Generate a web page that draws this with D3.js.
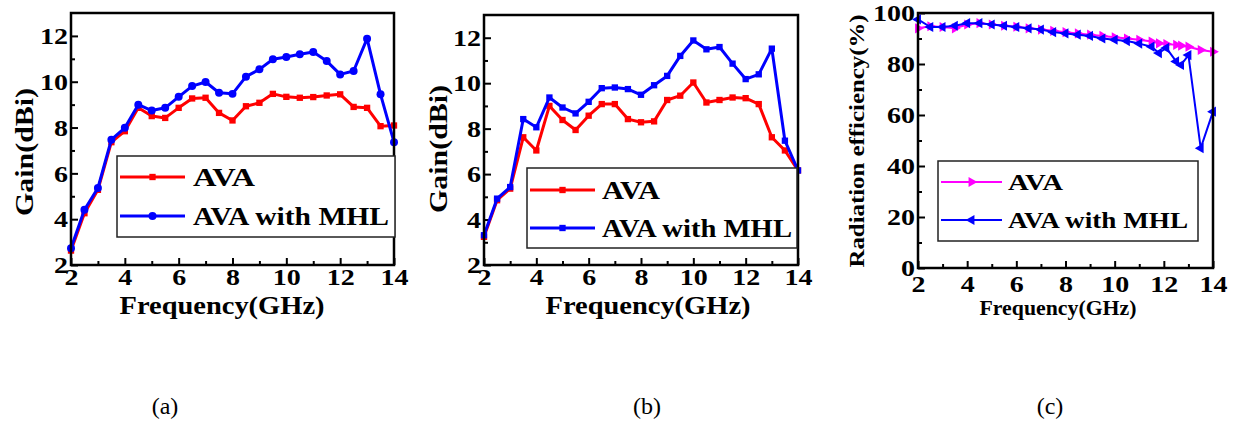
<!DOCTYPE html>
<html>
<head>
<meta charset="utf-8">
<script src="https://cdn.jsdelivr.net/npm/d3@7"></script>
<style>
  body { margin: 0; background: #fff; }
</style>
</head>
<body>
<svg id="fig" width="1236" height="421"></svg>
<script>
const FONT = "'Liberation Serif', 'DejaVu Serif', serif";

// frequency points (GHz) for panels (a) and (b)
const freqAB = [2, 2.5, 3, 3.5, 4, 4.5, 5, 5.5, 6, 6.5, 7, 7.5, 8, 8.5, 9, 9.5, 10, 10.5, 11, 11.5, 12, 12.5, 13, 13.5, 14];

// panel (a) gain (dBi)
const gainA_ava = [2.63, 4.26, 5.28, 7.36, 7.84, 8.86, 8.5, 8.42, 8.86, 9.27, 9.3, 8.64, 8.31, 8.93, 9.08, 9.47, 9.34, 9.3, 9.33, 9.4, 9.45, 8.9, 8.86, 8.06, 8.09];
const gainA_mhl = [2.73, 4.41, 5.36, 7.47, 7.99, 9.0, 8.74, 8.86, 9.34, 9.81, 9.99, 9.52, 9.47, 10.22, 10.54, 10.98, 11.08, 11.2, 11.3, 10.9, 10.32, 10.47, 11.88, 9.45, 7.36];

// panel (b) gain (dBi)
const gainB_ava = [3.24, 4.85, 5.36, 7.62, 7.04, 9.0, 8.38, 7.94, 8.57, 9.08, 9.08, 8.42, 8.28, 8.32, 9.26, 9.45, 10.03, 9.15, 9.26, 9.37, 9.34, 9.08, 7.62, 7.04, 6.16];
const gainB_mhl = [3.31, 4.92, 5.43, 8.42, 8.06, 9.37, 8.93, 8.67, 9.18, 9.78, 9.81, 9.74, 9.49, 9.91, 10.32, 11.2, 11.88, 11.49, 11.59, 10.86, 10.18, 10.39, 11.52, 7.47, 6.16];

// panel (c) radiation efficiency (%)
const freqC = [2, 2.5, 3, 3.5, 4, 4.5, 5, 5.5, 6, 6.5, 7, 7.5, 8, 8.5, 9, 9.5, 10, 10.5, 11, 11.5, 11.8, 12.1, 12.5, 12.7, 13, 13.5, 14];
const effC_ava = [94, 94.8, 94.5, 94, 95.5, 96, 95.5, 95, 94.6, 94, 93.5, 93, 92.5, 92, 91.5, 91, 90.5, 90, 89.5, 88.8, 88.1, 87.8, 87.5, 87.2, 86.8, 85.5, 84.8];
const effC_mhl = [97.5, 94.5, 94.5, 95, 96, 96, 95.5, 95, 94.5, 94, 93.5, 92.5, 92, 91.5, 91, 90, 89.5, 89, 88, 86.8, 84.3, 86.3, 81, 79.6, 83.5, 47, 61.3];

const legendLabels = ["AVA", "AVA with MHL"];
const captions = ["(a)", "(b)", "(c)"];

const svg = d3.select("#fig");

const panels = [
  {
    left: 71, right: 394, top: 13, bottom: 265,
    xDomain: [2, 14], yDomain: [2, 13],
    xMajor: [2, 4, 6, 8, 10, 12, 14], xMinor: [3, 5, 7, 9, 11, 13],
    yMajor: [2, 4, 6, 8, 10, 12], yMinor: [3, 5, 7, 9, 11],
    tickFont: 24, digitW: 14, xPad: 3, xTitle: "Frequency(GHz)", yTitle: "Gain(dBi)", titleFont: 26,
    xTitlePos: [222, 314], xTitleLen: 205, yTitlePos: [33, 152], yTitleLen: 128,
    lineW: 3,
    series: [
      { x: freqAB, y: gainA_ava, color: "#ff0000", symbol: d3.symbolSquare, size: 40, rot: 0 },
      { x: freqAB, y: gainA_mhl, color: "#0000ff", symbol: d3.symbolCircle, size: 50, rot: 0 }
    ],
    legend: { x0: 117, y0: 156, x1: 395, y1: 237, lineX: [120, 185], rows: [177, 216], textX: 193, font: 25, lens: [62, 196] },
    caption: [165, 414]
  },
  {
    left: 484, right: 798, top: 15, bottom: 265,
    xDomain: [2, 14], yDomain: [2, 13],
    xMajor: [2, 4, 6, 8, 10, 12, 14], xMinor: [3, 5, 7, 9, 11, 13],
    yMajor: [2, 4, 6, 8, 10, 12], yMinor: [3, 5, 7, 9, 11],
    tickFont: 24, digitW: 14, xPad: 3, xTitle: "Frequency(GHz)", yTitle: "Gain(dBi)", titleFont: 26,
    xTitlePos: [648, 314], xTitleLen: 205, yTitlePos: [447, 149], yTitleLen: 128,
    lineW: 3,
    series: [
      { x: freqAB, y: gainB_ava, color: "#ff0000", symbol: d3.symbolSquare, size: 40, rot: 0 },
      { x: freqAB, y: gainB_mhl, color: "#0000ff", symbol: d3.symbolSquare, size: 40, rot: 0 }
    ],
    legend: { x0: 527, y0: 168, x1: 797, y1: 248, lineX: [530, 595], rows: [190, 228], textX: 602, font: 25, lens: [58, 190] },
    caption: [647, 414]
  },
  {
    left: 918, right: 1213, top: 13, bottom: 268,
    xDomain: [2, 14], yDomain: [0, 100],
    xMajor: [2, 4, 6, 8, 10, 12, 14], xMinor: [3, 5, 7, 9, 11, 13],
    yMajor: [0, 20, 40, 60, 80, 100], yMinor: [10, 30, 50, 70, 90],
    tickFont: 23, digitW: 14, xPad: 8, xTitle: "Frequency(GHz)", yTitle: "Radiation efficiency(%)", titleFont: 20,
    xTitlePos: [1058, 315], xTitleLen: 157, yTitlePos: [864, 141], yTitleLen: 253,
    lineW: 2,
    series: [
      { x: freqC, y: effC_ava, color: "#ff00ff", symbol: d3.symbolTriangle, size: 45, rot: 90 },
      { x: freqC, y: effC_mhl, color: "#0000ff", symbol: d3.symbolTriangle, size: 45, rot: -90 }
    ],
    legend: { x0: 938, y0: 161, x1: 1198, y1: 241, lineX: [941, 1002], rows: [182, 220], textX: 1008, font: 23, lens: [55, 180] },
    caption: [1050, 414]
  }
];

panels.forEach((p, i) => {
  const g = svg.append("g");
  const x = d3.scaleLinear().domain(p.xDomain).range([p.left, p.right]);
  const y = d3.scaleLinear().domain(p.yDomain).range([p.bottom, p.top]);

  // minor ticks (inward, no labels)
  g.append("g")
    .attr("transform", `translate(0,${p.bottom})`)
    .call(d3.axisBottom(x).tickValues(p.xMinor).tickSize(-4).tickFormat(""));
  g.append("g")
    .attr("transform", `translate(${p.left},0)`)
    .call(d3.axisLeft(y).tickValues(p.yMinor).tickSize(-4).tickFormat(""));

  // major ticks with labels
  const xa = g.append("g")
    .attr("transform", `translate(0,${p.bottom})`)
    .call(d3.axisBottom(x).tickValues(p.xMajor).tickSize(-7).tickPadding(p.xPad).tickFormat(d3.format("d")));
  const ya = g.append("g")
    .attr("transform", `translate(${p.left},0)`)
    .call(d3.axisLeft(y).tickValues(p.yMajor).tickSize(-7).tickPadding(3).tickFormat(d3.format("d")));

  [xa, ya].forEach(a => {
    a.selectAll("text")
      .attr("fill", "#000")
      .attr("textLength", d => String(d).length * p.digitW)
      .attr("lengthAdjust", "spacingAndGlyphs")
      .style("font-family", FONT)
      .style("font-size", p.tickFont + "px")
      .style("font-weight", "bold");
  });
  g.selectAll(".tick line").attr("stroke", "#000").attr("stroke-width", 2);
  g.selectAll("path.domain").remove();

  // series lines and markers
  p.series.forEach(s => {
    const pts = s.x.map((v, k) => [v, s.y[k]]);
    g.append("path")
      .datum(pts)
      .attr("fill", "none")
      .attr("stroke", s.color)
      .attr("stroke-width", p.lineW)
      .attr("stroke-linejoin", "round")
      .attr("d", d3.line().x(d => x(d[0])).y(d => y(d[1])));
    g.selectAll(null)
      .data(pts)
      .enter().append("path")
      .attr("transform", d => `translate(${x(d[0])},${y(d[1])}) rotate(${s.rot})`)
      .attr("d", d3.symbol().type(s.symbol).size(s.size))
      .attr("fill", s.color);
  });

  // plot frame
  g.append("rect")
    .attr("x", p.left).attr("y", p.top)
    .attr("width", p.right - p.left).attr("height", p.bottom - p.top)
    .attr("fill", "none")
    .attr("stroke", "#000")
    .attr("stroke-width", 2.5);

  // legend
  const L = p.legend;
  g.append("rect")
    .attr("x", L.x0).attr("y", L.y0)
    .attr("width", L.x1 - L.x0).attr("height", L.y1 - L.y0)
    .attr("fill", "#fff")
    .attr("stroke", "#222")
    .attr("stroke-width", 1.5);
  p.series.forEach((s, k) => {
    const ry = L.rows[k];
    g.append("line")
      .attr("x1", L.lineX[0]).attr("x2", L.lineX[1])
      .attr("y1", ry).attr("y2", ry)
      .attr("stroke", s.color)
      .attr("stroke-width", p.lineW);
    g.append("path")
      .attr("transform", `translate(${(L.lineX[0] + L.lineX[1]) / 2},${ry}) rotate(${s.rot})`)
      .attr("d", d3.symbol().type(s.symbol).size(s.size))
      .attr("fill", s.color);
    g.append("text")
      .attr("x", L.textX).attr("y", ry)
      .attr("dy", "0.36em")
      .attr("textLength", L.lens[k])
      .attr("lengthAdjust", "spacingAndGlyphs")
      .style("font-family", FONT)
      .style("font-size", L.font + "px")
      .style("font-weight", "bold")
      .text(legendLabels[k]);
  });

  // axis titles
  g.append("text")
    .attr("x", p.xTitlePos[0] - p.xTitleLen / 2).attr("y", p.xTitlePos[1])
    .attr("textLength", p.xTitleLen)
    .attr("lengthAdjust", "spacingAndGlyphs")
    .style("font-family", FONT)
    .style("font-size", p.titleFont + "px")
    .style("font-weight", "bold")
    .text(p.xTitle);
  g.append("text")
    .attr("transform", `translate(${p.yTitlePos[0]},${p.yTitlePos[1]}) rotate(-90)`)
    .attr("x", -p.yTitleLen / 2)
    .attr("textLength", p.yTitleLen)
    .attr("lengthAdjust", "spacingAndGlyphs")
    .style("font-family", FONT)
    .style("font-size", p.titleFont + "px")
    .style("font-weight", "bold")
    .text(p.yTitle);

  // caption
  svg.append("text")
    .attr("x", p.caption[0]).attr("y", p.caption[1])
    .attr("text-anchor", "middle")
    .style("font-family", FONT)
    .style("font-size", "24px")
    .text(captions[i]);
});
</script>
</body>
</html>
